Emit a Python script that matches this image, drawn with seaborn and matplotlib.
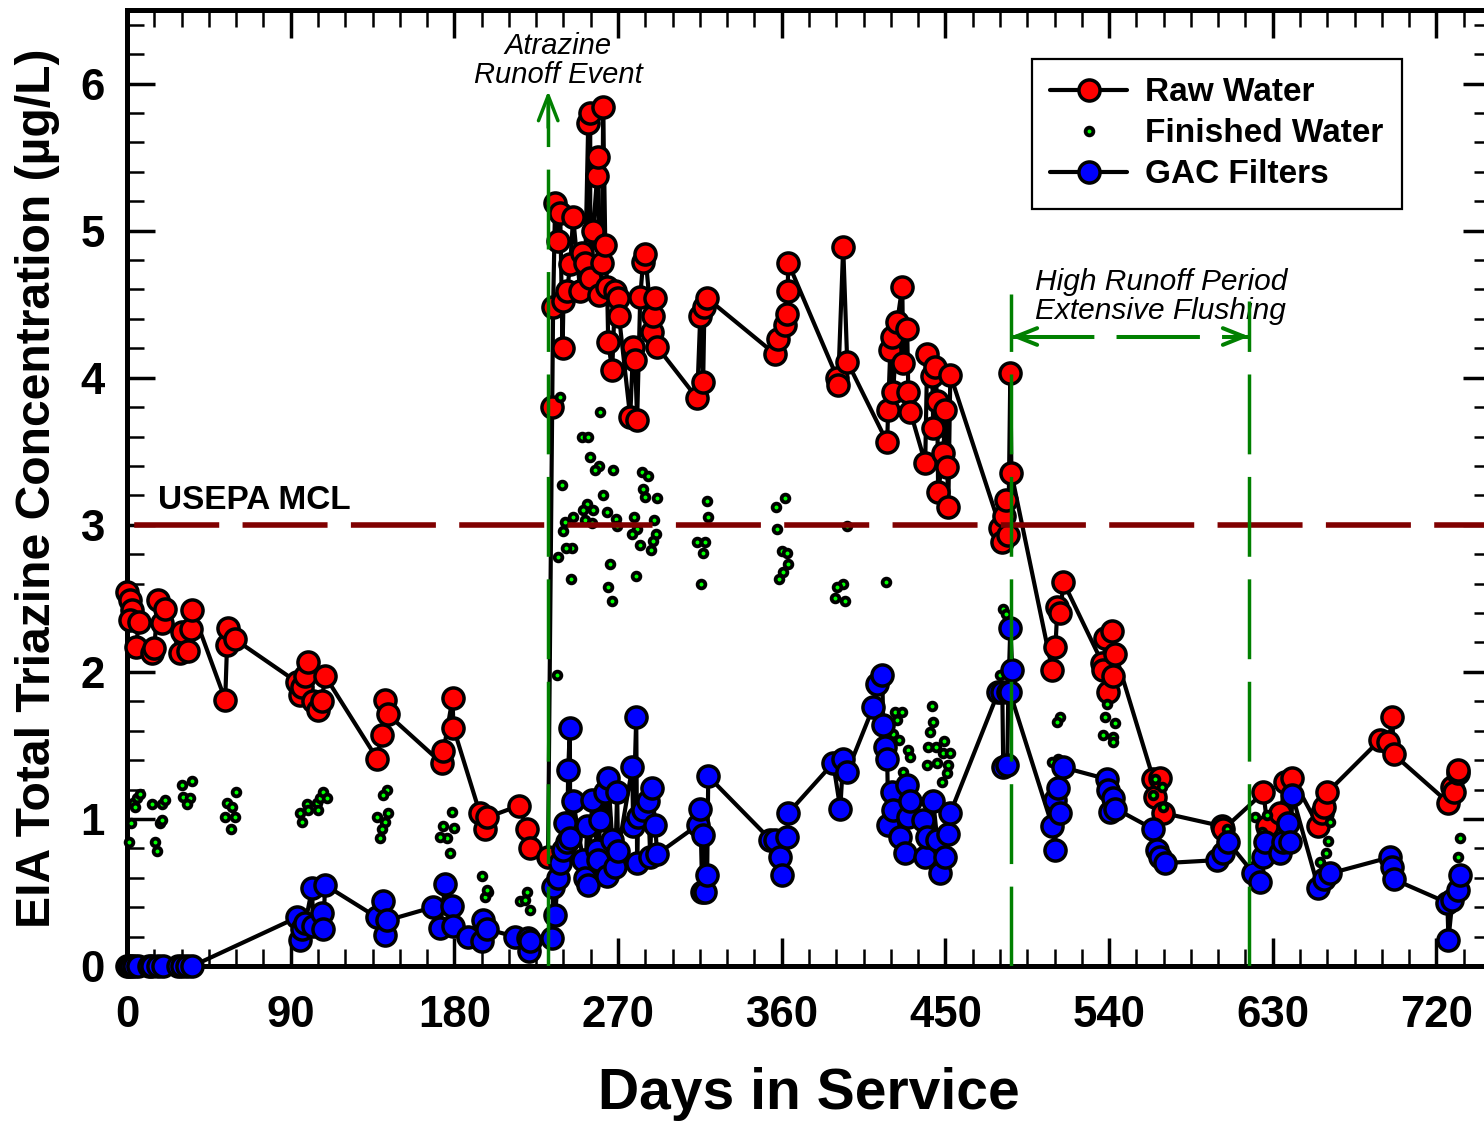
import matplotlib
matplotlib.use('Agg')
import matplotlib.pyplot as plt
import seaborn as sns
from matplotlib.lines import Line2D
from matplotlib.ticker import MultipleLocator

sns.set_style('ticks')
plt.rcParams['font.family'] = ['Liberation Sans', 'DejaVu Sans']
plt.rcParams.update({'text.color': 'black', 'axes.labelcolor': 'black',
                     'xtick.color': 'black', 'ytick.color': 'black',
                     'axes.edgecolor': 'black'})

# ---------------- data ----------------
raw_days = [0, 1.5, 3, 1.5, 6.5, 5, 13.5, 15, 17, 19, 21, 29, 30, 33.5, 35, 36,
            54, 55, 55.5, 59.5, 93.5, 95, 96, 98, 99.5, 102, 105, 107, 109,
            137.5, 140, 142, 143.5, 173, 174, 179, 179.5, 194, 197, 198,
            215.5, 220, 221.5, 231.5,
            233.8, 234.3, 235.4, 237.0, 238.2, 239.5, 240.0, 242.0, 243.7, 245.3,
            249.2, 250.3, 252.0, 253.6, 254.7, 254.7, 256.3, 258.5, 259.0, 259.5,
            261.3, 261.8, 263.0, 264.0, 264.6, 266.8, 268.4, 270.0, 270.5,
            276.7, 278.3, 279.4, 280.5, 282.2, 283.8, 285.0, 288.8, 289.3, 290.4, 291.5,
            313.5, 315.2, 316.8, 317.5, 319, 356.4, 358, 362, 363, 363.3, 363.6,
            390.5, 391, 393.8, 396, 418, 418.5, 419.7, 420.8, 421.3, 423.5, 426.3,
            426.8, 429, 429.6, 430.7, 438.9, 440, 442.8, 443.3, 444.4, 445.5, 446,
            448.8, 450, 451, 451.6, 452.7, 480.2, 481.3, 482.4, 483.5, 484.6, 485.7,
            486.3, 508.8, 510.5, 511.6, 513.2, 514.9, 536.3, 536.9, 538, 539.6,
            541.8, 542.4, 543.5, 564.4, 565.5, 568.2, 569.9, 602.3, 602.9, 624.9,
            627, 634.2, 637, 640.8, 655.1, 657.3, 657.9, 660, 689.2, 693.6, 695.8,
            696.4, 726.6, 728.8, 729.4, 731.6, 732.1]
raw_vals = [2.54, 2.49, 2.42, 2.35, 2.34, 2.17, 2.13, 2.16, 2.49, 2.33, 2.43, 2.13, 2.27, 2.14, 2.29, 2.42,
            1.81, 2.18, 2.30, 2.22, 1.93, 1.84, 1.90, 1.97, 2.07, 1.80, 1.74, 1.80, 1.97,
            1.41, 1.57, 1.81, 1.71, 1.38, 1.46, 1.82, 1.62, 1.04, 0.93, 1.01,
            1.09, 0.93, 0.80, 0.74,
            3.80, 4.48, 5.19, 4.93, 5.12, 4.20, 4.52, 4.59, 4.77, 5.09,
            4.59, 4.85, 4.78, 5.73, 5.80, 4.68, 5.00, 5.37, 5.50, 4.56,
            4.78, 5.84, 4.90, 4.62, 4.24, 4.05, 4.59, 4.54, 4.42,
            3.73, 4.21, 4.12, 3.71, 4.55, 4.79, 4.84, 4.31, 4.42, 4.54, 4.21,
            3.86, 4.42, 3.97, 4.48, 4.54, 4.16, 4.26, 4.36, 4.43, 4.59, 4.78,
            4.00, 3.95, 4.89, 4.11, 3.56, 3.78, 4.19, 4.28, 3.90, 4.38, 4.62,
            4.10, 4.33, 3.90, 3.77, 3.42, 4.16, 4.01, 3.66, 4.07, 3.84, 3.22,
            3.49, 3.78, 3.39, 3.12, 4.02, 2.98, 2.88, 3.06, 3.17, 2.93, 4.03,
            3.35, 2.01, 2.17, 2.44, 2.40, 2.61, 2.06, 2.01, 2.23, 1.86,
            2.28, 1.97, 2.12, 1.27, 1.15, 1.28, 1.04, 0.95, 0.93, 1.18,
            0.95, 1.04, 1.25, 1.28, 0.95, 1.04, 1.08, 1.18, 1.54, 1.52, 1.69,
            1.44, 1.11, 1.22, 1.18, 1.31, 1.33]

fin_days = [1, 2, 3.5, 5.5, 7, 4.5, 14, 19, 21, 18, 19.5, 15.5, 16.5, 30, 36, 31, 34.5, 33,
            55, 58, 60, 54, 59.5, 57, 95, 96, 99, 99.5, 104.5, 106, 107.5, 110, 105,
            143, 141, 143.5, 137.5, 142, 140, 139, 178.5, 180, 173.5, 176, 172, 177.5,
            195.3, 198.5, 197, 198, 220, 216, 221.5, 219,
            238.2, 260.2, 250.3, 253.6, 254.7, 259.6, 257.4, 267.3, 283.3, 286.6, 239.3,
            261.8, 283.8, 285, 291.5, 253, 250.8, 256.3, 264, 245.3, 241, 252, 269,
            278.9, 289.9, 255.8, 239.8, 269.5, 280.5, 277.8, 291, 289.3, 282.2, 288.2,
            244.8, 241.5, 237, 265.7, 280, 244.2, 264.6, 266.8, 236.5,
            319, 319.6, 313.5, 317.9, 316.8, 315.7,
            361.9, 357, 357.5, 360.3, 363, 363.6, 360.8, 358.6,
            396, 393.8, 390.5, 389.4, 395, 417.5,
            422.4, 426.3, 423.5, 421.3, 424.6, 429.6, 430.7, 426.8, 442.8, 443.3, 441.7,
            440.6, 445, 449.4, 448.8, 452.7, 445.5, 440, 451.6, 451, 448.3,
            481.8, 483.5, 480.2, 513.2, 511.6, 508.8, 512,
            539, 538, 543.5, 536.9, 542.4, 542.4, 565.5, 569.3, 564.4, 569.9,
            605, 620.5, 627, 624.3, 661.7, 660.6, 659, 656.2, 733.2, 731.6]
fin_vals = [0.84, 0.97, 1.11, 1.14, 1.17, 1.08, 1.10, 1.10, 1.13, 0.97, 0.99, 0.84, 0.78, 1.23, 1.26, 1.15, 1.14, 1.10,
            1.11, 1.08, 1.18, 1.01, 1.01, 0.93, 1.04, 0.98, 1.10, 1.06, 1.11, 1.14, 1.18, 1.14, 1.06,
            1.20, 1.16, 1.04, 1.01, 0.98, 0.93, 0.87, 1.05, 0.94, 0.95, 0.87, 0.88, 0.77,
            0.61, 0.50, 0.47, 0.52, 0.50, 0.44, 0.38, 0.45,
            3.87, 3.77, 3.60, 3.60, 3.46, 3.40, 3.37, 3.37, 3.36, 3.33, 3.27,
            3.20, 3.24, 3.19, 3.18, 3.14, 3.10, 3.10, 3.09, 3.05, 3.02, 3.03, 3.04,
            3.05, 3.03, 3.01, 2.96, 2.99, 2.97, 2.94, 2.94, 2.89, 2.86, 2.83,
            2.84, 2.84, 2.78, 2.73, 2.65, 2.63, 2.58, 2.48, 1.98,
            3.16, 3.05, 2.88, 2.88, 2.81, 2.60,
            3.18, 3.12, 2.97, 2.82, 2.81, 2.73, 2.68, 2.63,
            2.99, 2.60, 2.58, 2.50, 2.48, 2.61,
            1.73, 1.73, 1.67, 1.58, 1.54, 1.47, 1.42, 1.32, 1.77, 1.66, 1.59,
            1.49, 1.49, 1.53, 1.45, 1.45, 1.38, 1.37, 1.37, 1.31, 1.25,
            2.43, 2.39, 1.98, 1.69, 1.66, 1.39, 1.41,
            1.78, 1.69, 1.65, 1.57, 1.56, 1.52, 1.27, 1.22, 1.16, 1.08,
            0.93, 1.01, 1.03, 0.91, 0.98, 0.85, 0.77, 0.71, 0.87, 0.74]

gac_days = [0, 1, 2, 4, 6, 12, 14, 17, 20, 28, 30, 33, 36,
            93.5, 95.2, 96.3, 98, 101.8, 102.3, 107.3, 107.8, 109,
            137.5, 140.8, 142, 143, 168.3, 172.2, 175, 178.8, 179.3,
            187.6, 195.3, 195.8, 198, 213.4, 220.6, 221, 221.5,
            233.8, 234.3, 235.4, 237, 238.2, 239.8, 241, 242, 242.6, 243.5, 243.7, 245.3,
            250.8, 252, 253, 253.6, 255.8, 258.5, 259, 260.2, 263, 264, 264.6, 266.8,
            268.4, 269.5, 270, 277.8, 278.3, 280, 280.5, 281, 283.8, 286.6, 287.7,
            288.8, 290.4, 291.5,
            314, 315.2, 316.3, 316.8, 318, 319, 319.6,
            353.7, 356.4, 359.2, 360.3, 363, 363.6,
            388.3, 392.2, 393.8, 396,
            410.3, 412.5, 415.3, 415.8, 417, 418, 418.6, 420.8, 421.3, 425.2, 428, 429,
            429.6, 430.7, 437.8, 439, 440, 443.3, 445.5, 447.2, 450, 451.6, 452.7,
            479, 481.3, 481.8, 484, 484.6, 485.7, 486.8, 485.5,
            508.8, 510.5, 510.5, 512, 513.2, 514.9,
            539, 539.6, 540.7, 542.4, 543.5,
            564.4, 566.6, 568.2, 571, 599.6, 602.9, 605.6,
            619.4, 623.2, 624.9, 625.5, 634.2, 635.9, 638.6, 639.7, 640.8,
            655.1, 657.9, 661.7, 694.7, 695.8, 696.4,
            726, 726.6, 728.8, 731.6, 733.2]
gac_vals = [0, 0, 0, 0, 0, 0, 0, 0, 0, 0, 0, 0, 0,
            0.33, 0.18, 0.25, 0.29, 0.53, 0.27, 0.36, 0.25, 0.55,
            0.33, 0.44, 0.21, 0.31, 0.40, 0.26, 0.56, 0.41, 0.27,
            0.20, 0.17, 0.31, 0.25, 0.20, 0.19, 0.10, 0.17,
            0.19, 0.54, 0.35, 0.60, 0.70, 0.79, 0.97, 0.84, 1.33, 1.62, 0.87, 1.12,
            0.72, 0.60, 0.95, 0.55, 1.13, 0.79, 0.72, 0.99, 1.18, 0.61, 1.28, 0.86,
            0.67, 1.18, 0.78, 1.35, 0.95, 1.69, 0.70, 1.01, 1.06, 1.12, 0.74,
            1.21, 0.96, 0.76,
            0.96, 1.07, 0.50, 0.89, 0.50, 0.62, 1.29,
            0.86, 0.86, 0.74, 0.62, 0.88, 1.04,
            1.38, 1.07, 1.41, 1.32,
            1.76, 1.92, 1.98, 1.64, 1.49, 1.41, 0.96, 1.18, 1.06, 0.88, 0.77, 1.23,
            1.01, 1.12, 0.99, 0.74, 0.88, 1.12, 0.86, 0.63, 0.74, 0.90, 1.04,
            1.86, 1.86, 1.35, 1.37, 1.86, 2.30, 2.01, 1.86,
            0.95, 0.79, 1.13, 1.21, 1.04, 1.35,
            1.27, 1.20, 1.05, 1.14, 1.07,
            0.93, 0.79, 0.74, 0.70, 0.72, 0.77, 0.84,
            0.63, 0.57, 0.74, 0.84, 0.77, 0.84, 0.97, 0.84, 1.16,
            0.53, 0.59, 0.63, 0.74, 0.67, 0.59,
            0.43, 0.18, 0.45, 0.52, 0.62]

x_ticks = [0, 90, 180, 270, 360, 450, 540, 630, 720]
y_ticks = [0, 1, 2, 3, 4, 5, 6]
mcl_level = 3.0
event_day = 231.6
flush_start, flush_end = 486.0, 617.0

# ---------------- figure ----------------
fig = plt.figure(figsize=(14.84, 11.21), dpi=100)
ax = fig.add_axes([0.08558, 0.13827, 0.91914, 0.85281])

MS, MEW, LW = 15.2, 2.5, 3.0
sns.lineplot(x=raw_days, y=raw_vals, sort=False, estimator=None, color='black',
             lw=LW, marker='o', markersize=MS, markerfacecolor='red',
             markeredgecolor='black', markeredgewidth=MEW, clip_on=False,
             zorder=3, ax=ax)
sns.scatterplot(x=fin_days, y=fin_vals, s=5.6 ** 2, color='#00ff00', edgecolor='black',
                linewidth=2.7, zorder=4, clip_on=False, ax=ax)
sns.lineplot(x=gac_days, y=gac_vals, sort=False, estimator=None, color='black',
             lw=LW, marker='o', markersize=MS, markerfacecolor='blue',
             markeredgecolor='black', markeredgewidth=MEW, clip_on=False,
             zorder=5, ax=ax)

# MCL line
ax.axhline(mcl_level, color='#800000', lw=4, ls=(18.2, (15.3, 4.2)), zorder=6)
ax.text(17, 3.11, 'USEPA MCL', fontsize=24, fontweight='bold', ha='left',
        va='baseline', zorder=7)

green = '#008000'
# atrazine event arrow
ax.plot([event_day, event_day], [0, 5.85], color=green, lw=2.5,
        ls=(0, (23, 6.5)), zorder=7)
ax.annotate('', xy=(event_day, 5.95), xytext=(event_day, 5.7),
            arrowprops=dict(arrowstyle='->,head_length=0.9,head_width=0.35',
                            color=green, lw=2.5, mutation_scale=20,
                            shrinkA=0, shrinkB=0), zorder=7)
ax.text(237, 6.155, 'Atrazine\nRunoff Event', fontsize=21, fontstyle='italic',
        ha='center', va='center', linespacing=1.05)

# flushing period
ax.plot([flush_start, flush_start], [0, 4.57], color=green, lw=2.5,
        ls=(0, (23, 6.5)), zorder=7)
ax.plot([flush_end, flush_end], [0, 4.52], color=green, lw=2.5,
        ls=(0, (23, 6.5)), zorder=7)
ax.plot([flush_start, flush_end], [4.28, 4.28], color=green, lw=2.9,
        ls=(0, (20.7, 5.5)), zorder=7)
for a, b in [(flush_start, flush_start + 8), (flush_end, flush_end - 8)]:
    ax.annotate('', xy=(a, 4.28), xytext=(b, 4.28),
                arrowprops=dict(arrowstyle='->,head_length=0.75,head_width=0.3',
                                color=green, lw=2.9, mutation_scale=20,
                                shrinkA=0, shrinkB=0), zorder=7)
ax.text(499.5, 4.55, 'High Runoff Period\nExtensive Flushing', fontsize=21.5,
        fontstyle='italic', ha='left', va='center', linespacing=1.05)

# axes
ax.set_xlim(0, 750)
ax.set_ylim(0, 6.5)
ax.set_xticks(x_ticks)
ax.set_yticks(y_ticks)
ax.xaxis.set_minor_locator(MultipleLocator(15))
ax.yaxis.set_minor_locator(MultipleLocator(0.2))
ax.tick_params(which='major', direction='in', length=20, width=2.5, top=True,
               right=True, labelsize=31.5, colors='black')
ax.tick_params(axis='x', which='major', pad=21)
ax.tick_params(axis='y', which='major', pad=16)
ax.tick_params(which='minor', direction='in', length=12, width=1.8, top=True,
               right=True, colors='black')
for lbl in ax.get_xticklabels() + ax.get_yticklabels():
    lbl.set_fontweight('bold')
for sp in ax.spines.values():
    sp.set_linewidth(3.6)
    sp.set_color('black')
    sp.set_visible(True)

ax.set_xlabel('Days in Service', fontsize=41, fontweight='bold')
ax.xaxis.set_label_coords(0.5, -0.106)
ax.set_ylabel('EIA Total Triazine Concentration (µg/L)', fontsize=34.6,
              fontweight='bold')
ax.yaxis.set_label_coords(-0.049, 0.5)

handles = [
    Line2D([0], [0], color='black', lw=LW, marker='o', ms=MS, mfc='red',
           mec='black', mew=MEW, label='Raw Water'),
    Line2D([0], [0], ls='none', marker='o', ms=5.6, mfc='#00ff00', mec='black',
           mew=2.7, label='Finished Water'),
    Line2D([0], [0], color='black', lw=LW, marker='o', ms=MS, mfc='blue',
           mec='black', mew=MEW, label='GAC Filters'),
]
leg = ax.legend(handles=handles, loc='upper left', bbox_to_anchor=(0.6635, 0.9488),
                borderaxespad=0, prop={'weight': 'bold', 'size': 24},
                frameon=True, fancybox=False, edgecolor='black', framealpha=1,
                handlelength=2.3, handletextpad=0.55, labelspacing=0.3,
                borderpad=0.55)
leg.get_frame().set_linewidth(1.6)
leg.set_zorder(10)

fig.savefig('out.png', dpi=100)
